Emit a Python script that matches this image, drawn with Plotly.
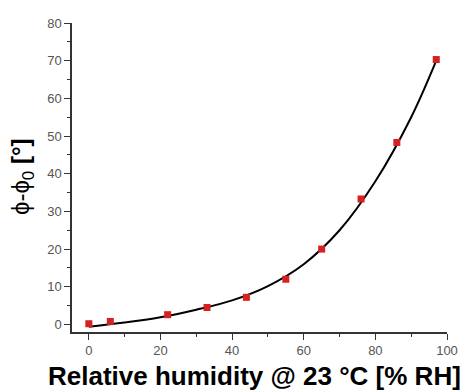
import plotly.graph_objects as go

# Measured data points
rh = [0, 6, 22, 33, 44, 55, 65, 76, 86, 97]
dphi = [0.2, 0.8, 2.6, 4.5, 7.2, 12.0, 20.0, 33.3, 48.3, 70.3]

# Fit curve values
fit_rh = [0, 10, 20, 30, 40, 50, 60, 70, 80, 90, 97]
fit_dphi = [-0.6, 0.5, 1.9, 3.9, 6.4, 10.2, 16.0, 25.0, 38.0, 55.0, 70.0]

x_ticks = [0, 20, 40, 60, 80, 100]
y_ticks = [0, 10, 20, 30, 40, 50, 60, 70, 80]

x_title = "Relative humidity @ 23 °C [% RH]"
y_title = "ϕ-ϕ<sub>0</sub> <b>[°]</b>"

fig = go.Figure()
fig.add_trace(go.Scatter(
    x=fit_rh, y=fit_dphi, mode="lines",
    line=dict(color="black", width=2, shape="spline", smoothing=1.0),
    hoverinfo="skip", showlegend=False,
))
fig.add_trace(go.Scatter(
    x=rh, y=dphi, mode="markers",
    marker=dict(symbol="square", size=7, color="#d42222"),
    showlegend=False,
))

axis_common = dict(
    showgrid=False, zeroline=False, showline=True, linecolor="#333333",
    linewidth=1.5, ticks="outside", ticklen=6, tickwidth=1.2, tickcolor="#333333",
    tickfont=dict(family="Liberation Sans, Arial", size=13, color="#555555"),
)

fig.update_layout(
    width=470, height=392,
    margin=dict(l=72, r=12, t=23, b=60),
    plot_bgcolor="white", paper_bgcolor="white",
    xaxis=dict(range=[-4.7, 100], tickvals=x_ticks,
               minor=dict(ticks="outside", dtick=10, tick0=0, ticklen=3, tickcolor="#333333"),
               **axis_common),
    yaxis=dict(range=[-2, 80], tickvals=y_ticks,
               minor=dict(ticks="outside", dtick=5, tick0=0, ticklen=3, tickcolor="#333333"),
               **axis_common),
    annotations=[
        dict(text=x_title, xref="paper", yref="paper", x=0.486, y=-0.087,
             xanchor="center", yanchor="top", showarrow=False,
             font=dict(family="Liberation Sans, Arial", size=26, color="black", weight="bold")),
        dict(text=y_title, xref="paper", yref="paper", x=-0.132, y=0.5,
             xanchor="center", yanchor="middle", showarrow=False, textangle=-90,
             font=dict(family="Liberation Sans, Arial", size=24, color="black")),
    ],
)

fig.write_html("out.html")
